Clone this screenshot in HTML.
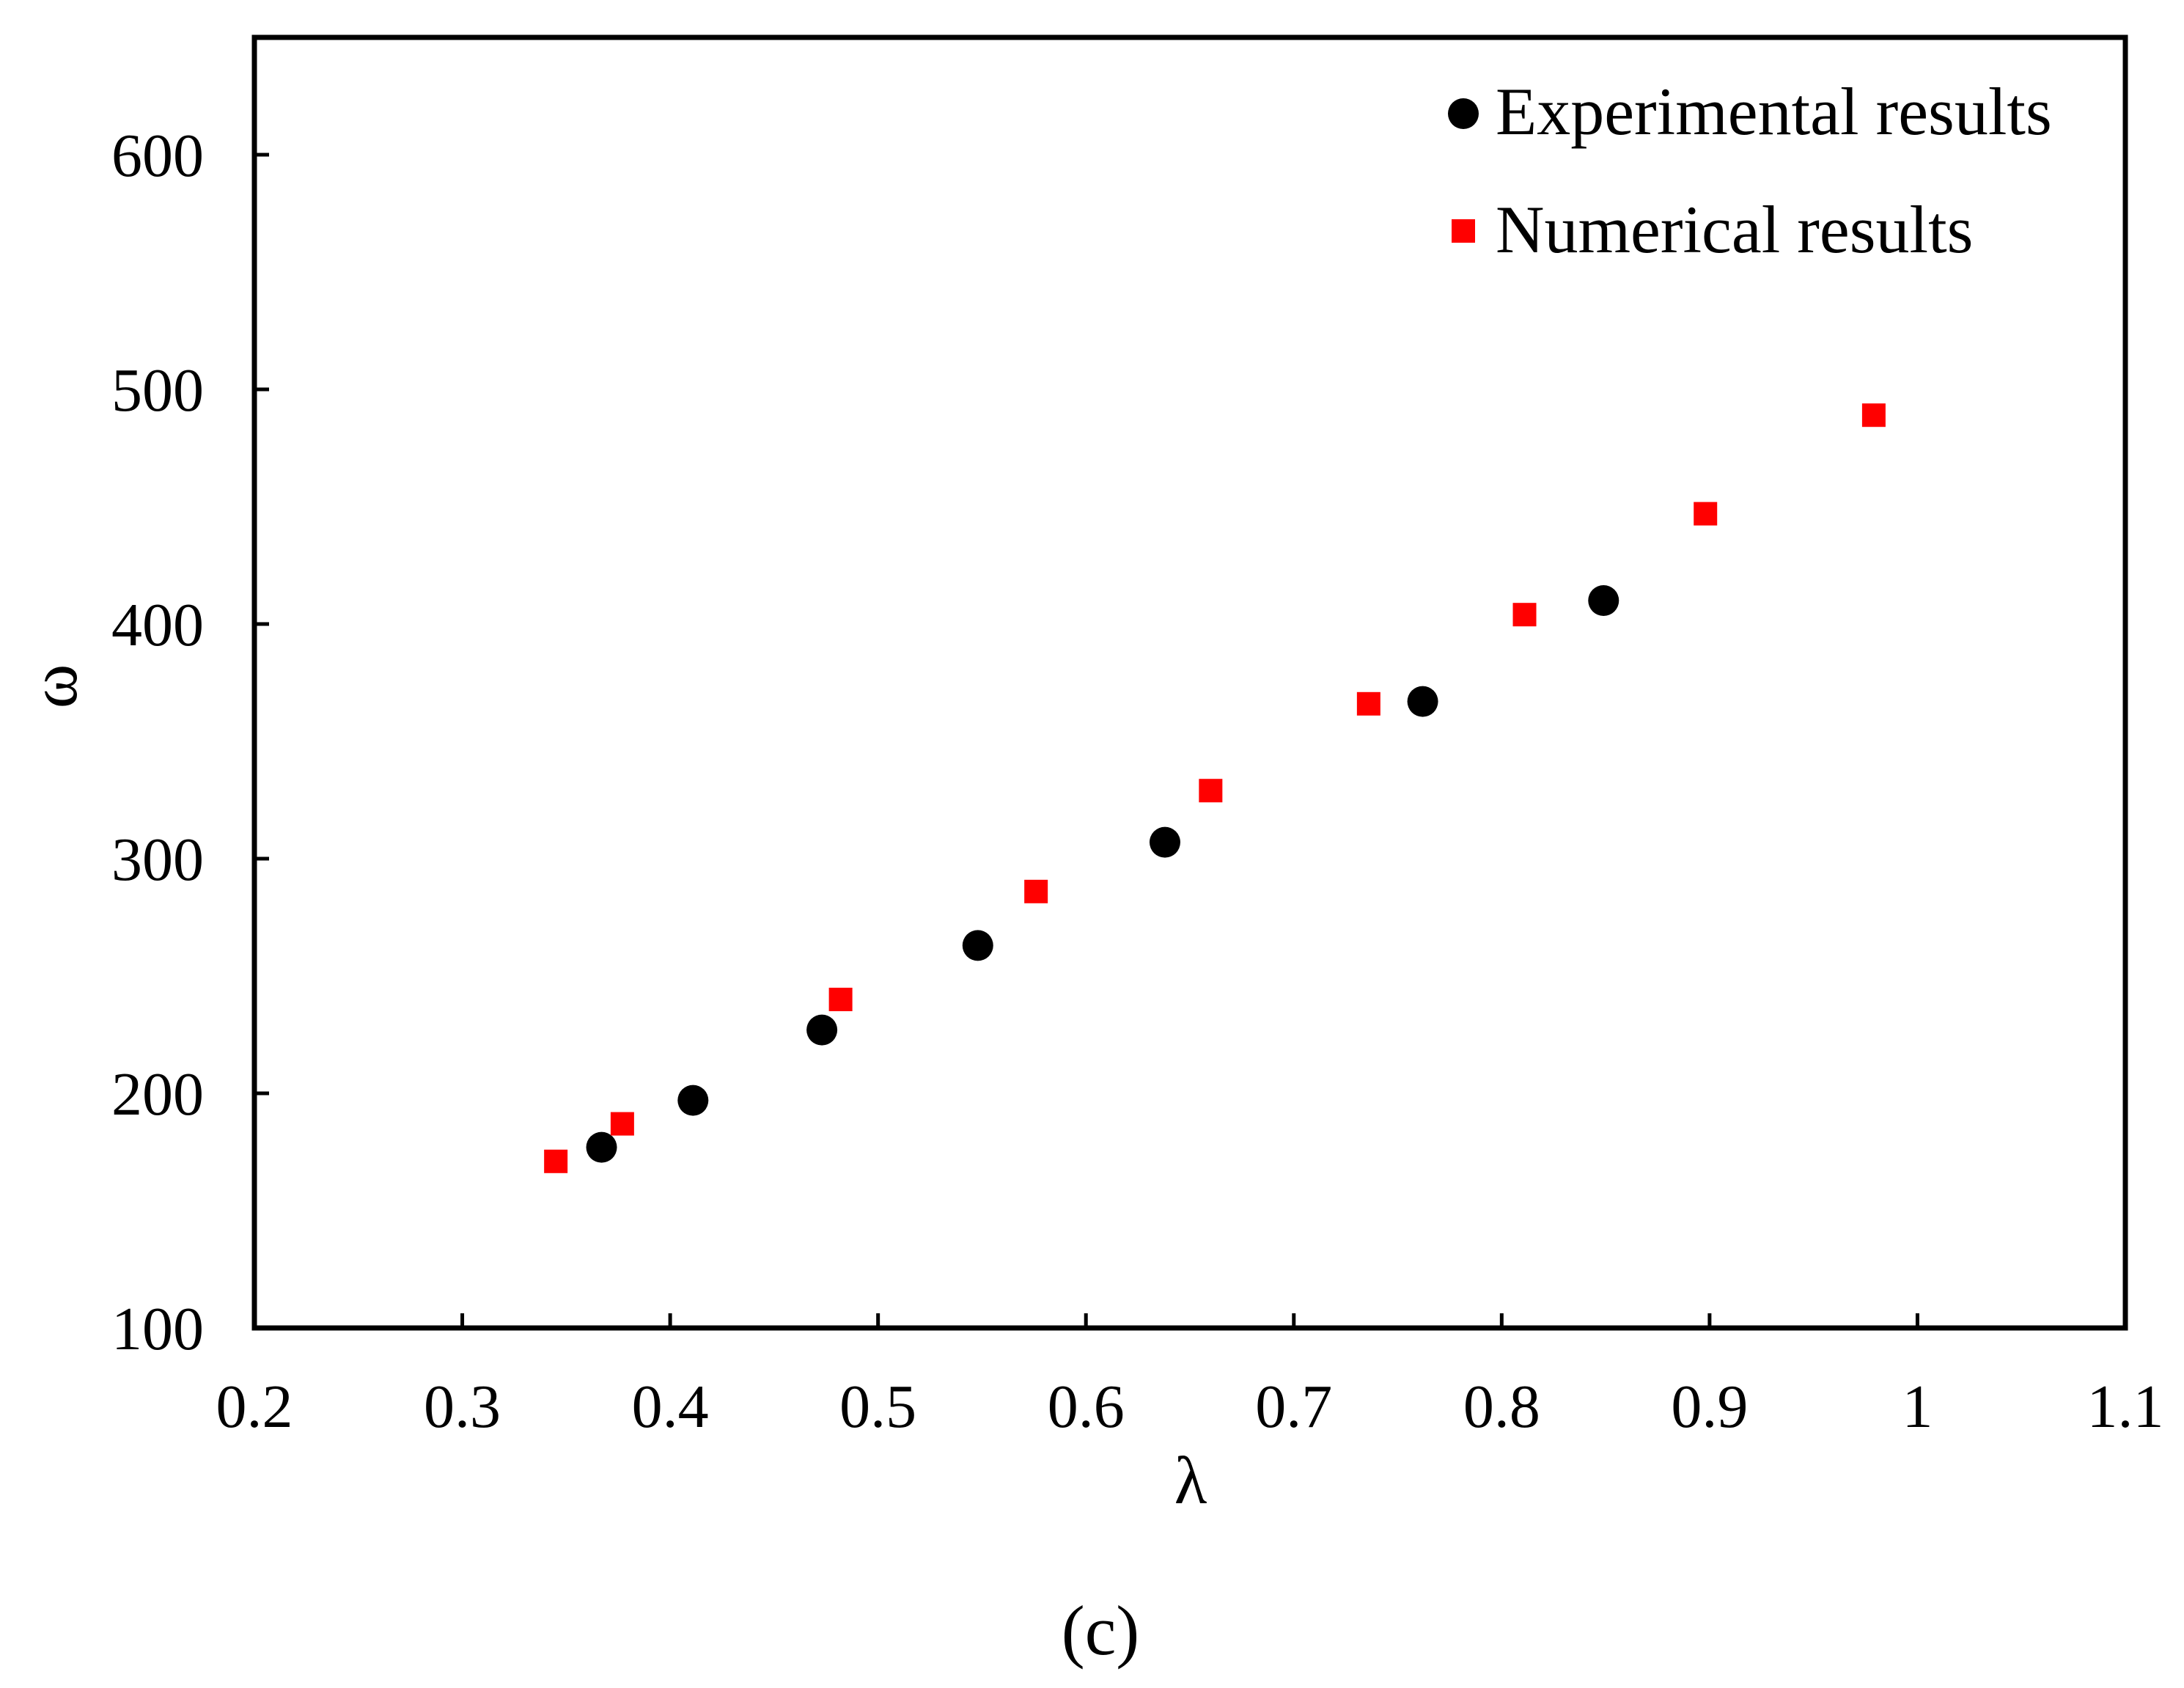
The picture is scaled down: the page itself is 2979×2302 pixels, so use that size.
<!DOCTYPE html>
<html><head><meta charset="utf-8"><style>
html,body{margin:0;padding:0;background:#fff;}
svg{display:block;font-family:"Liberation Serif",serif;}
</style></head><body>
<svg id="chart" width="2979" height="2302" viewBox="0 0 2979 2302" xmlns="http://www.w3.org/2000/svg">
<rect x="347" y="51" width="2552" height="1760" fill="none" stroke="#000" stroke-width="7"/>
<g id="ticks"></g>
<g id="marks"></g>
<text x="1624" y="2050" font-size="92" text-anchor="middle">λ</text>
<text transform="translate(104,936) rotate(-90)" font-size="92" text-anchor="middle">ω</text>
<text x="1501" y="2256" font-size="96" text-anchor="middle">(c)</text>
<g>
<circle cx="1996" cy="155" r="21" fill="#000"/>
<text x="2040" y="183" font-size="92">Experimental results</text>
<rect x="1980" y="299" width="32" height="32" fill="#f00"/>
<text x="2040" y="344" font-size="92">Numerical results</text>
</g>
</svg>
<script>
const xTicks = [0.2,0.3,0.4,0.5,0.6,0.7,0.8,0.9,1,1.1];
const xTickLabels = ["0.2","0.3","0.4","0.5","0.6","0.7","0.8","0.9","1","1.1"];
const yTicks = [100,200,300,400,500,600];
const yTickLabels = ["100","200","300","400","500","600"];
const expX = [0.367,0.411,0.473,0.548,0.638,0.762,0.849];
const expY = [177,197,227,263,307,367,410];
const numX = [0.345,0.377,0.482,0.576,0.660,0.736,0.811,0.898,0.979];
const numY = [171,187,240,286,329,366,404,447,489];

const L=347,R=2899,T=51,B=1811,xMin=0.2,xMax=1.1,yMin=100,yMax=650;
function sx(v){return L+(v-xMin)/(xMax-xMin)*(R-L);}
function sy(v){return B-(v-yMin)/(yMax-yMin)*(B-T);}
const NS="http://www.w3.org/2000/svg";
const tg=document.getElementById('ticks'), mg=document.getElementById('marks');
function mk(tag,attrs,parent){const e=document.createElementNS(NS,tag);for(const k in attrs)e.setAttribute(k,attrs[k]);parent.appendChild(e);return e;}
xTicks.forEach((v,i)=>{
  const x=sx(v);
  const t=mk('line',{x1:x,x2:x,y1:B,y2:B-20,stroke:'#000','stroke-width':5},tg);
  
  
  const l=mk('text',{x:x,y:1946,'font-size':84,'text-anchor':'middle'},tg);
  l.textContent=xTickLabels[i];
  
  
});
yTicks.forEach((v,i)=>{
  const y=sy(v);
  const t=mk('line',{x1:L,x2:L+20,y1:y,y2:y,stroke:'#000','stroke-width':5},tg);
  
  
  const l=mk('text',{x:278,y:y+29,'font-size':84,'text-anchor':'end'},tg);
  l.textContent=yTickLabels[i];
  
  
});
expX.forEach((v,i)=>{
  const c=mk('circle',{cx:sx(v),cy:sy(expY[i]),r:21,fill:'#000'},mg);
  
  
});
numX.forEach((v,i)=>{
  const r=mk('rect',{x:sx(v)-16,y:sy(numY[i])-16,width:32,height:32,fill:'#f00'},mg);
  
  
});
</script>
</body></html>
